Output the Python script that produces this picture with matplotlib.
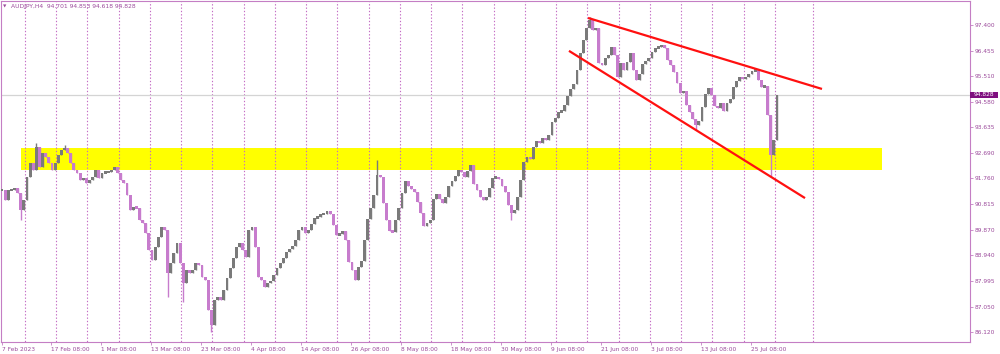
import numpy as np
import matplotlib
matplotlib.use("Agg")
import matplotlib.pyplot as plt
from matplotlib.patches import Rectangle

# ---------------- data ----------------
symbol = "AUDJPY,H4"
last_ohlc = ["94.701", "94.853", "94.618", "94.828"]
current_price = 94.828

# closes of consecutive 12-hour groups (3 H4 bars each)
closes = [
    91.34, 90.97, 91.34, 91.34, 91.41, 91.23, 90.60, 90.97, 91.82, 92.33,
    92.07, 92.92, 92.18, 92.70, 92.55, 92.33, 92.07, 92.33, 92.62, 92.81,
    92.88, 92.70, 92.33, 92.07, 91.96, 91.71, 91.78, 91.60, 91.71, 91.82,
    92.07, 91.78, 91.96, 92.00, 92.00, 92.07, 92.18, 91.96, 91.71, 91.60,
    91.15, 90.60, 90.71, 90.68, 90.24, 90.12, 89.76, 89.13, 88.77, 89.24,
    89.61, 89.98, 89.87, 88.29, 88.66, 89.02, 89.39, 88.66, 87.92, 88.40,
    88.29, 88.40, 88.66, 88.58, 88.14, 88.03, 86.93, 86.38, 87.30, 87.41,
    87.30, 87.66, 88.10, 88.47, 88.84, 89.24, 89.39, 89.13, 88.88, 89.87,
    89.98, 89.24, 88.14, 88.03, 87.77, 87.92, 87.99, 88.21, 88.47, 88.66,
    88.84, 89.06, 89.17, 89.28, 89.50, 89.87, 89.98, 89.76, 89.87, 90.09,
    90.31, 90.35, 90.46, 90.46, 90.57, 90.46, 90.05, 89.68, 89.72, 89.83,
    89.50, 88.69, 88.40, 88.03, 88.51, 88.73, 89.50, 90.27, 90.68, 91.15,
    91.89, 91.82, 90.86, 90.24, 89.83, 89.79, 90.24, 90.68, 91.23, 91.67,
    91.49, 91.37, 91.26, 90.90, 90.49, 90.01, 90.12, 90.24, 91.01, 91.19,
    91.01, 90.86, 91.08, 91.49, 91.67, 91.85, 92.07, 92.00, 91.82, 92.04,
    92.26, 91.56, 91.34, 91.08, 90.97, 91.08, 91.41, 91.78, 91.82, 91.74,
    91.49, 91.26, 90.79, 90.49, 90.60, 91.08, 91.71, 92.37, 92.55, 92.48,
    92.92, 93.14, 93.06, 93.25, 93.17, 93.36, 93.84, 93.98, 94.20, 94.24,
    94.46, 94.79, 95.05, 95.23, 95.75, 96.37, 96.85, 97.29, 97.58, 97.22,
    97.29, 96.00, 95.93, 96.19, 96.30, 96.59, 96.30, 95.49, 96.00, 95.75,
    96.04, 96.37, 95.75, 95.38, 95.60, 95.97, 96.08, 96.19, 96.41, 96.55,
    96.59, 96.67, 96.55, 96.11, 95.93, 95.67, 95.27, 94.90, 94.98, 94.46,
    94.20, 93.95, 93.73, 93.87, 94.39, 94.87, 95.09, 94.83, 94.42, 94.35,
    94.53, 94.24, 94.53, 94.68, 95.12, 95.34, 95.49, 95.42, 95.49, 95.60,
    95.71, 95.75, 95.38, 95.12, 95.16, 94.09, 92.62, 93.17, 94.828,
]
# wick extremes that reach beyond the bodies (group index, price)
wick_idx = [6, 11, 20, 53, 58, 67, 120, 163, 188, 222, 246]
wick_price = [90.24, 93.06, 92.99, 87.41, 87.22, 86.12, 92.44, 90.24, 97.69, 93.54, 91.82]

price_ticks = [97.400, 96.455, 95.510, 94.580, 93.635, 92.690, 91.760,
               90.815, 89.870, 88.940, 87.995, 87.050, 86.120]
date_labels = ["7 Feb 2023", "17 Feb 08:00", "1 Mar 08:00", "13 Mar 08:00",
               "23 Mar 08:00", "4 Apr 08:00", "14 Apr 08:00", "26 Apr 08:00",
               "8 May 08:00", "18 May 08:00", "30 May 08:00", "9 Jun 08:00",
               "21 Jun 08:00", "3 Jul 08:00", "13 Jul 08:00", "25 Jul 08:00"]

zone_low, zone_high = 92.07, 92.89
zone_bars = (18.5, 845.0)
upper_trend_bars, upper_trend_prices = [562.6, 787.2], [97.66, 95.05]
lower_trend_bars, lower_trend_prices = [544.3, 770.9], [96.45, 91.04]

# ---------------- style ----------------
BULL = "#7a7a7a"
BEAR = "#c77ccd"
FRAME = "#c47ec4"
TXT = "#9b4a9b"
GRID = "#c46cc4"
MIN_BODY = 0.09   # minimum drawn body height (price units), visual only

fig = plt.figure(figsize=(10, 3.54), dpi=100)
ax = fig.add_axes([0.001, 1 - 342 / 354, 0.969, 341 / 354])
ax.set_facecolor("white")

bars_per_group = 3
closes_a = np.array(closes)
opens_a = np.concatenate([[closes_a[0]], closes_a[:-1]])
xpos = np.arange(len(closes_a)) * bars_per_group
body_lo = np.minimum(opens_a, closes_a)
body_hi = np.maximum(opens_a, closes_a)
lows_a = body_lo.copy()
highs_a = body_hi.copy()
for i, p in zip(wick_idx, wick_price):
    lows_a[i] = min(lows_a[i], p)
    highs_a[i] = max(highs_a[i], p)
up = closes_a >= opens_a
colors = np.where(up, BULL, BEAR)

# zone
ax.add_patch(Rectangle((zone_bars[0], zone_low), zone_bars[1] - zone_bars[0],
                       zone_high - zone_low, facecolor="#ffff00",
                       edgecolor="none", zorder=1))

# vertical dotted grid every 30 bars
grid_x = list(np.arange(22, 745, 30)) + [779]
ax.vlines(grid_x, 85.0, 99.0, colors=GRID, linestyles=(0, (1.2, 1.8)),
          lw=0.8, zorder=1.5)

# current price line
ax.axhline(current_price, color="#d4d4d4", lw=0.9, zorder=1.6)

# candles
ax.vlines(xpos, lows_a, highs_a, colors=colors, lw=1.0, zorder=3)
mid = (body_lo + body_hi) / 2
height = np.maximum(body_hi - body_lo, MIN_BODY)
ax.bar(xpos, height, bottom=mid - height / 2, width=2.7, color=colors,
       edgecolor="none", zorder=3)

# trend lines
ax.plot(upper_trend_bars, upper_trend_prices, color="#ff1010", lw=1.6, zorder=4,
        solid_capstyle="butt")
ax.plot(lower_trend_bars, lower_trend_prices, color="#ff1010", lw=1.6, zorder=4,
        solid_capstyle="butt")

# limits
px_per_bar = 50 / 48
ax.set_xlim((1 - 2) / px_per_bar, (970 - 2) / px_per_bar)
ax.set_ylim(85.752, 98.282)

# axes ticks
date_pos = [0] + [48 * k - 1 for k in range(1, len(date_labels))]
ax.set_xticks(date_pos, labels=date_labels)
for lbl in ax.get_xticklabels():
    lbl.set_ha("left")
ax.yaxis.tick_right()
ax.set_yticks(price_ticks, labels=[f"{v:.3f}" for v in price_ticks])
ax.tick_params(axis="x", length=2.2, width=0.6, color=FRAME, labelsize=4.2,
               labelcolor=TXT, pad=1.2)
ax.tick_params(axis="y", length=2.2, width=0.6, color=FRAME, labelsize=4.2,
               labelcolor=TXT, pad=1.0, left=False, right=True,
               labelleft=False, labelright=True)
for s in ax.spines.values():
    s.set_color(FRAME)
    s.set_linewidth(0.8)

# current price box
trans = ax.get_yaxis_transform()
ax.add_patch(Rectangle((1.0005, current_price - 0.105), 0.028, 0.21,
                       transform=trans, facecolor="#7f0f7f", edgecolor="none",
                       clip_on=False, zorder=6))
ax.text(1.0035, current_price, f"{current_price:.3f}", transform=trans,
        fontsize=4.2, color="white", va="center", ha="left", zorder=7,
        clip_on=False)

# header text
fig.text(3 / 1000, 1 - 6.5 / 354, "\u25BC", fontsize=3.2, color=TXT,
         va="center", ha="left")
fig.text(11 / 1000, 1 - 6.5 / 354, symbol + "  " + " ".join(last_ohlc),
         fontsize=4.3, color=TXT, va="center", ha="left")

fig.savefig("out.png", dpi=100, facecolor="white")
